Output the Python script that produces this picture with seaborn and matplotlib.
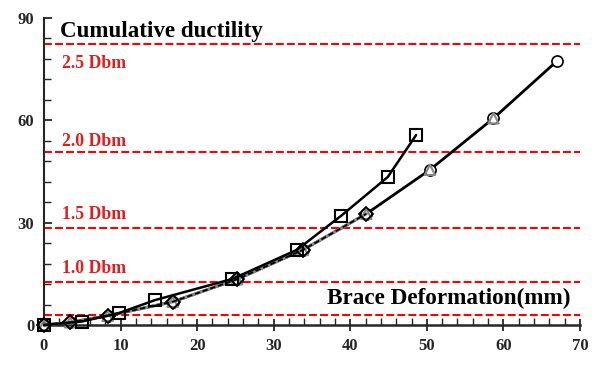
import pandas as pd
import matplotlib
matplotlib.use("Agg")
import matplotlib.pyplot as plt
from matplotlib.ticker import MultipleLocator
import seaborn as sns

# Readings
sq_x = [0, 4.9, 9.8, 14.5, 24.6, 33.0, 38.8, 44.9, 48.6]
sq_y = [0, 1.0, 3.5, 7.3, 13.5, 22.0, 32.0, 43.4, 55.7]

ci_x = [0, 3.4, 8.3, 16.8, 25.2, 33.8, 42.1, 50.4, 58.7, 67.0]
ci_y = [0, 0.8, 2.7, 6.8, 13.4, 22.0, 32.6, 45.5, 60.6, 77.4]

tr_x = [0, 3.4, 8.3, 16.8, 25.2, 33.8, 42.1, 50.4, 58.7]
tr_y = [0, 0.8, 2.7, 6.8, 13.4, 22.0, 32.6, 45.5, 60.6]
tr_line_n = 7  # grey line only visible up to 42 mm

di_x = [0, 3.4, 8.3, 16.8, 25.2, 33.8, 42.1]
di_y = [0, 0.8, 2.7, 6.8, 13.4, 22.0, 32.6]

levels = [3.0, 12.5, 28.3, 50.8, 82.3]
level_labels = ["1.0 Dbm", "1.5 Dbm", "2.0 Dbm", "2.5 Dbm"]
label_y = [15.2, 31.1, 52.5, 75.4]

sns.set_style("ticks")
plt.rcParams['font.family'] = ['Liberation Serif', 'DejaVu Serif']
plt.rcParams['font.weight'] = 'bold'

fig = plt.figure(figsize=(6, 3.7), dpi=100)
ax = fig.add_axes([44 / 600, 1 - 325 / 370, 536 / 600, 307 / 370])

for y in levels:
    ax.axhline(y, color='#FF0000', lw=1.5, dashes=(3.8, 1.5), zorder=1)

# circles, black solid
sns.lineplot(x=ci_x, y=ci_y, ax=ax, color='black', lw=2.0, marker='o',
             markersize=8, markerfacecolor='white', markeredgecolor='black',
             markeredgewidth=1.2, zorder=2, clip_on=False)
# triangles, grey
sns.lineplot(x=tr_x[:tr_line_n], y=tr_y[:tr_line_n], ax=ax, color='#8a8a8a',
             lw=2.2, zorder=3, clip_on=False)
sns.scatterplot(x=tr_x, y=tr_y, ax=ax, marker='^', s=55, facecolor='none',
                edgecolor='#888888', linewidth=1.5, zorder=4, clip_on=False)
# diamonds, black dashed
sns.lineplot(x=di_x, y=di_y, ax=ax, color='black', lw=1.3, marker='D',
             markersize=7, markerfacecolor='none', markeredgecolor='black',
             markeredgewidth=1.3, linestyle=(0, (3, 1.5)), zorder=5, clip_on=False)
# squares, black solid
sns.lineplot(x=sq_x, y=sq_y, ax=ax, color='black', lw=1.8, marker='s',
             markersize=9, markerfacecolor='none', markeredgecolor='black',
             markeredgewidth=1.5, zorder=6, clip_on=False)

ax.set_xlim(0, 70)
ax.set_ylim(0, 90)
ax.xaxis.set_major_locator(MultipleLocator(10))
ax.xaxis.set_minor_locator(MultipleLocator(2))
ax.yaxis.set_major_locator(MultipleLocator(30))
ax.yaxis.set_minor_locator(MultipleLocator(6))
ax.tick_params(axis='x', which='major', direction='inout', length=9, width=1.3,
               labelsize=12, pad=5)
ax.tick_params(axis='x', which='minor', direction='in', length=5, width=1.0)
ax.tick_params(axis='y', which='major', direction='in', length=6, width=1.3,
               labelsize=12, pad=7)
ax.tick_params(axis='y', which='minor', direction='in', length=5, width=1.0)
for lab in ax.get_xticklabels() + ax.get_yticklabels():
    lab.set_fontweight('bold')

sns.despine(ax=ax)
ax.spines['left'].set_linewidth(1.5)
ax.spines['bottom'].set_linewidth(1.8)
ax.set_xlabel("")
ax.set_ylabel("")

ax.text(2.1, 84.5, "Cumulative ductility", fontsize=16.6, fontweight='bold',
        color='black', va='baseline', ha='left')
for txt, y in zip(level_labels, label_y):
    ax.text(2.35, y, txt, fontsize=12.8, fontweight='bold', color='#E02020',
            va='baseline', ha='left')
ax.text(36.9, 6.2, "Brace Deformation(mm)", fontsize=16.7, fontweight='bold',
        color='black', va='baseline', ha='left')

fig.savefig("out.png", dpi=100)
